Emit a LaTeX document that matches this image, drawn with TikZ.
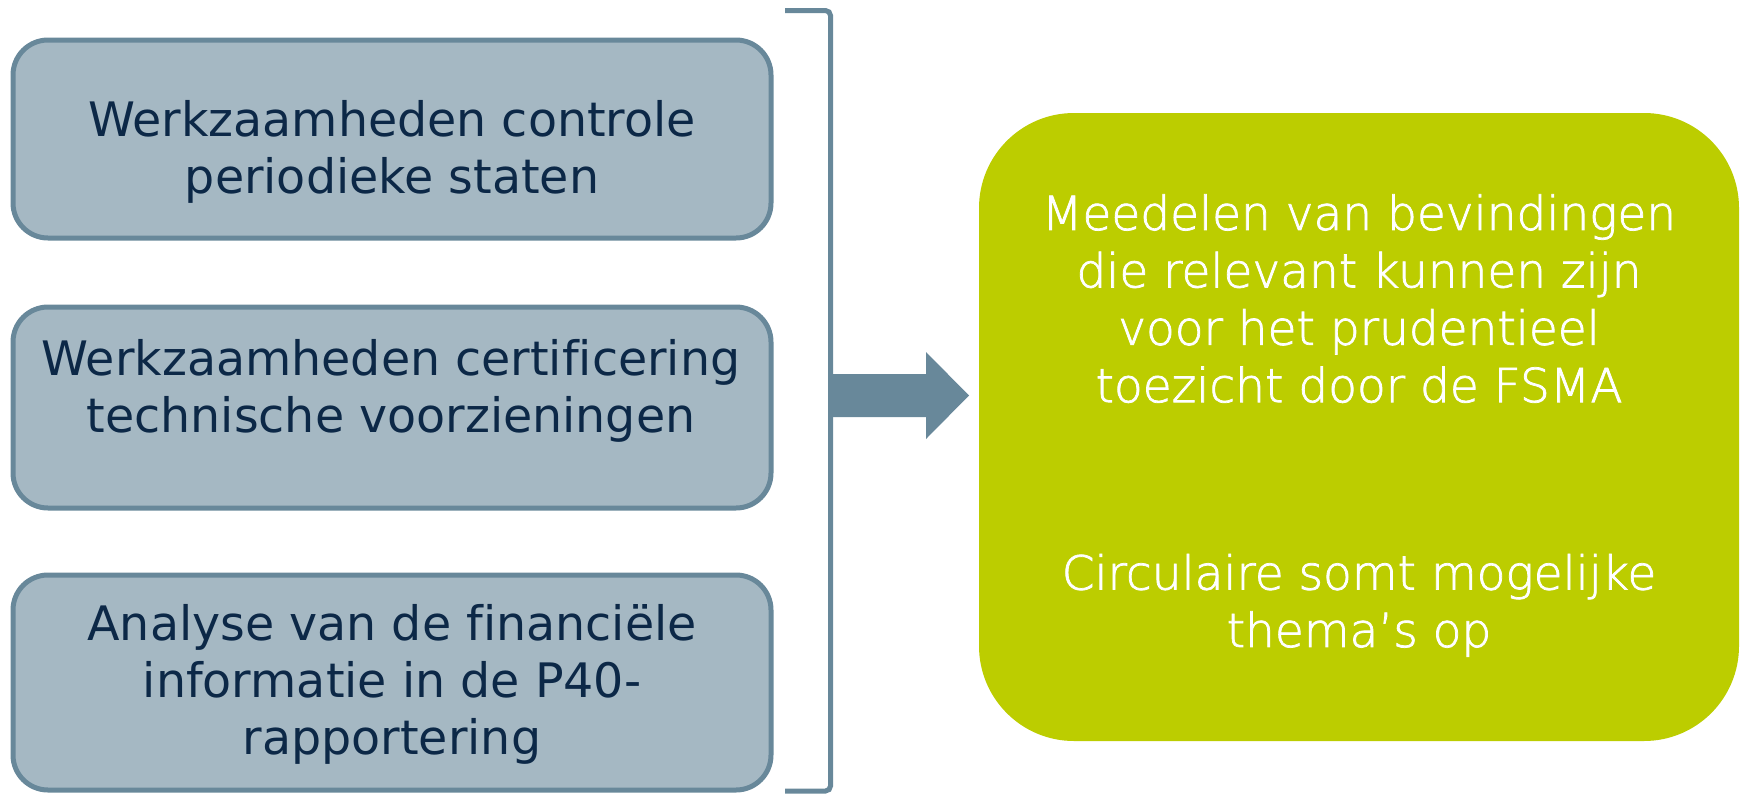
\documentclass[tikz,border=0pt]{standalone}
\usepackage{fontspec}
\setmainfont{DejaVu Sans}[Ligatures=NoCommon]
\newfontfamily\greenfont{DejaVu Sans ExtraLight}[FakeBold=1.6, Ligatures=NoCommon]
\definecolor{slate}{HTML}{68889A}
\definecolor{slatefill}{HTML}{A5B8C3}
\definecolor{navy}{HTML}{0C2847}
\definecolor{lime}{HTML}{BCCD00}
\tikzset{
  x=1pt, y=-1pt,
  graybox/.style={draw=slate, fill=slatefill, line width=5pt, rounded corners=35pt,
    minimum width=758pt, inner sep=0pt},
  graytext/.style={text=navy, align=center, inner sep=0pt,
    font=\fontsize{47.5}{57}\selectfont},
  greenbox/.style={fill=lime, rounded corners=95pt, minimum width=760pt,
    minimum height=628pt, text=white, align=center, inner sep=0pt,
    font=\greenfont\fontsize{47}{57.4}\selectfont},
}
\begin{document}
\begin{tikzpicture}
\useasboundingbox (0,0) rectangle (1746,793);
% left boxes
\node[graybox, minimum height=198pt] (b1) at (392,139) {};
\node[graybox, minimum height=201pt] (b2) at (392,407.5) {};
\node[graybox, minimum height=215pt] (b3) at (392,682.5) {};
\node[graytext] (t1) at (392,153.6) {\strut Werkzaamheden controle\\periodieke staten\strut};
\node[graytext] (t2) at (391,392.6) {\strut Werkzaamheden certificering\\technische voorzieningen\strut};
\node[graytext] (t3) at (392,686) {\strut Analyse van de financiële\\informatie in de P40-\\rapportering\strut};
% bracket
\coordinate (brtop) at (785,10.5);
\coordinate (brbot) at (785,791);
\draw[slate, line width=5pt, rounded corners=5pt] (brtop) -- (830.5,10.5) -- (830.5,791) -- (brbot);
% green box
\node[greenbox] (g) at (1359,427) {\strut Meedelen van bevindingen\\die relevant kunnen zijn\\voor het prudentieel\\toezicht door de FSMA\\[130pt]Circulaire somt mogelijke\\thema’s op\strut};
% block arrow
\coordinate (as) at (831,395.5);
\fill[slate] (as) ++(0,-21.5) -- (926,374) -- (926,352) -- (969,395.5) -- (926,439) -- (926,417) -- (831,417) -- cycle;
\end{tikzpicture}
\end{document}
